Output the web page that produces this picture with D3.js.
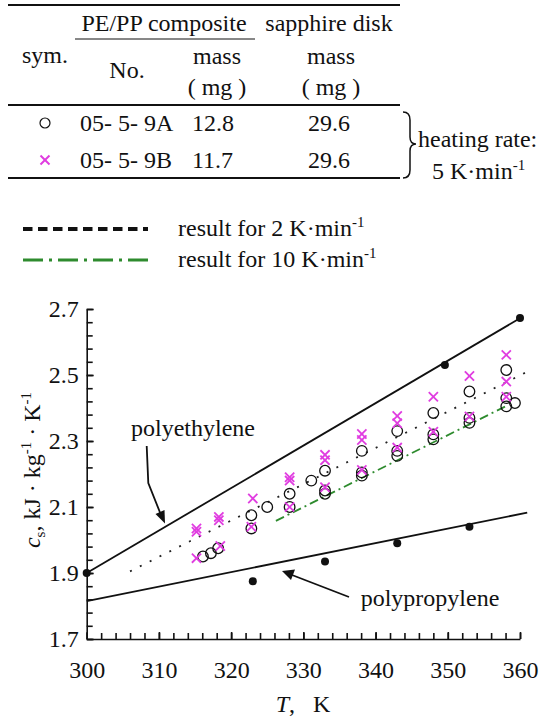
<!DOCTYPE html>
<html><head><meta charset="utf-8">
<script src="https://cdn.jsdelivr.net/npm/d3@7"></script>
<style>
body{margin:0;background:#fff;}
svg text{font-family:"Liberation Serif","Times New Roman",serif;fill:#111;}
</style></head>
<body><svg id="c" width="544" height="718"></svg>
<script>
// ---- data ----
const circleT  = [316.1,317.2,318.2,322.8,322.8,325.0,328.1,328.1,331.1,333.0,333.0,333.0,338.1,338.1,338.1,343.0,343.0,343.0,348.0,348.0,348.0,353.0,353.0,353.0,358.1,358.1,358.1,359.3];
const circleCs = [1.950,1.960,1.975,2.075,2.035,2.100,2.140,2.100,2.180,2.210,2.150,2.140,2.270,2.205,2.195,2.330,2.270,2.255,2.385,2.320,2.305,2.450,2.370,2.355,2.515,2.430,2.405,2.415];
const crossT   = [315.2,315.2,315.2,318.3,318.3,318.5,323.0,322.8,328.1,328.1,328.1,333.0,333.0,333.0,338.1,338.1,338.1,343.0,343.0,343.0,348.0,348.0,353.0,353.0,358.1,358.1,358.1];
const crossCs  = [1.945,2.035,2.025,2.070,2.060,1.982,2.126,2.040,2.190,2.180,2.100,2.258,2.242,2.160,2.321,2.303,2.212,2.376,2.354,2.280,2.434,2.328,2.497,2.374,2.561,2.480,2.434];
const peLineT  = [300, 360];   const peLineCs = [1.900, 2.672];
const peDotT   = [300, 349.6, 360]; const peDotCs = [1.900, 2.530, 2.673];
const ppLineT  = [300, 361];   const ppLineCs = [1.815, 2.083];
const ppDotT   = [323, 333, 343, 353]; const ppDotCs = [1.875, 1.935, 1.990, 2.040];
const rate2T   = [306, 361];   const rate2Cs  = [1.905, 2.510];
const rate10T  = [326.2, 358]; const rate10Cs = [2.058, 2.405];
const xMajor = [300,310,320,330,340,350,360];
const yMajor = [1.7,1.9,2.1,2.3,2.5,2.7];
const tableRows = [
  {sym:"circle", no:"05- 5- 9A", mass:"12.8", sapphire:"29.6"},
  {sym:"cross",  no:"05- 5- 9B", mass:"11.7", sapphire:"29.6"}
];
const legendItems = [
  {label:"result for 2 K·min", kind:"dash"},
  {label:"result for 10 K·min", kind:"dashdot"}
];

const MAG = "#e03ce0", GREEN = "#2e8b2e";
const FS = 24;
const svg = d3.select("#c");
const x = d3.scaleLinear().domain([300,360]).range([86.7,520]);
const y = d3.scaleLinear().domain([1.7,2.7]).range([639,309]);

function cross(g, cx, cy, s, col, w){
  g.append("line").attr("x1",cx-s).attr("y1",cy-s).attr("x2",cx+s).attr("y2",cy+s).attr("stroke",col).attr("stroke-width",w);
  g.append("line").attr("x1",cx-s).attr("y1",cy+s).attr("x2",cx+s).attr("y2",cy-s).attr("stroke",col).attr("stroke-width",w);
}

// ---- table ----
const tb = svg.append("g");
[[5,2.2],[105,2],[178,2.2]].forEach(([yy,w])=>tb.append("line").attr("x1",8).attr("x2",400).attr("y1",yy).attr("y2",yy).attr("stroke","#111").attr("stroke-width",w));
tb.append("line").attr("x1",75).attr("x2",255).attr("y1",39).attr("y2",39).attr("stroke","#111").attr("stroke-width",1);
const tt = (t,xx,yy,anchor="middle")=>tb.append("text").attr("x",xx).attr("y",yy).attr("text-anchor",anchor).attr("font-size",FS).text(t);
tt("PE/PP composite",164,31); tt("sapphire disk",329,31);
tt("sym.",45,63); tt("No.",127,78);
tt("mass",217,64); tt("( mg )",217,95);
tt("mass",331,64); tt("( mg )",331,95);
tableRows.forEach((r,i)=>{
  const yy = [131,168][i];
  if(r.sym==="circle") tb.append("circle").attr("cx",45).attr("cy",yy-8).attr("r",5).attr("fill","none").attr("stroke","#111").attr("stroke-width",1.2);
  else cross(tb,45,yy-8,4.5,MAG,2);
  tt(r.no,80,yy,"start"); tt(r.mass,192,yy,"start"); tt(r.sapphire,329,yy);
});
tb.append("path").attr("d","M403,112 Q410,112 410,120 L410,137 Q410,144 416,144 Q410,144 410,151 L410,170 Q410,178 403,178").attr("fill","none").attr("stroke","#111").attr("stroke-width",1.5);
tt("heating rate:",418,147,"start");
const t5 = tb.append("text").attr("x",432).attr("y",179).attr("font-size",FS);
t5.append("tspan").text("5 K·min");
t5.append("tspan").attr("dy",-9).attr("font-size",15).text("-1");

// ---- legend ----
const lg = svg.append("g");
legendItems.forEach((d,i)=>{
  const yy = 229 + i*31;
  lg.append("line").attr("x1",23).attr("x2",148).attr("y1",yy).attr("y2",yy)
    .attr("stroke", d.kind==="dash" ? "#111" : GREEN)
    .attr("stroke-width", d.kind==="dash" ? 3.8 : 3.2)
    .attr("stroke-dasharray", d.kind==="dash" ? "9.5,5.5" : "20,6,3,6");
  const t = lg.append("text").attr("x",178).attr("y",yy+7).attr("font-size",FS);
  t.append("tspan").text(d.label);
  t.append("tspan").attr("dy",-9).attr("font-size",15).text("-1");
});

// ---- axes ----
const ax = svg.append("g");
const yMinor = d3.range(0,26).map(i=>+(1.7+i*0.04).toFixed(2));
const xMinor = d3.range(300,361,2);
ax.append("g").attr("transform","translate(86.7,0)")
  .call(d3.axisLeft(y).tickValues(yMinor).tickSizeInner(-6).tickSizeOuter(0).tickFormat(""))
  .call(g=>g.selectAll("line,path").attr("stroke","#111").attr("stroke-width",1.6));
ax.append("g").attr("transform","translate(86.7,0)")
  .call(d3.axisLeft(y).tickValues(yMajor).tickSizeInner(-7).tickSizeOuter(0).tickPadding(8).tickFormat(d3.format(".1f")))
  .call(g=>{g.select(".domain").remove(); g.selectAll("line").attr("stroke","#111").attr("stroke-width",1.6);
            g.selectAll("text").attr("font-size",FS).attr("font-family","Liberation Serif").attr("fill","#111");});
ax.append("g").attr("transform","translate(0,639)")
  .call(d3.axisBottom(x).tickValues(xMinor).tickSizeInner(-6).tickSizeOuter(0).tickFormat(""))
  .call(g=>g.selectAll("line,path").attr("stroke","#111").attr("stroke-width",1.6));
ax.append("g").attr("transform","translate(0,639)")
  .call(d3.axisBottom(x).tickValues(xMajor).tickSizeInner(-7).tickSizeOuter(0).tickPadding(22).tickFormat(d3.format("d")))
  .call(g=>{g.select(".domain").remove(); g.selectAll("line").attr("stroke","#111").attr("stroke-width",1.6);
            g.selectAll("text").attr("font-size",FS).attr("font-family","Liberation Serif").attr("fill","#111");});

// axis titles
const yl = svg.append("text").attr("transform","translate(40,470) rotate(-90)").attr("text-anchor","middle").attr("font-size",FS);
yl.append("tspan").attr("font-style","italic").text("c");
yl.append("tspan").attr("dy",5).attr("font-size",15).text("s");
yl.append("tspan").attr("dy",-5).text(",\u00a0kJ · kg");
yl.append("tspan").attr("dy",-9).attr("font-size",15).text("-1");
yl.append("tspan").attr("dy",9).text(" · K");
yl.append("tspan").attr("dy",-9).attr("font-size",15).text("-1");
const xl = svg.append("text").attr("x",303).attr("y",712).attr("text-anchor","middle").attr("font-size",FS);
xl.append("tspan").attr("font-style","italic").text("T");
xl.append("tspan").text(",\u00a0\u00a0\u00a0K");

// ---- lines ----
const pl = svg.append("g");
const line = d3.line().x(d=>x(d[0])).y(d=>y(d[1]));
const zipT = (a,b)=>a.map((v,i)=>[v,b[i]]);
pl.append("path").attr("d",line(zipT(peLineT,peLineCs))).attr("fill","none").attr("stroke","#111").attr("stroke-width",1.8);
pl.append("path").attr("d",line(zipT(ppLineT,ppLineCs))).attr("fill","none").attr("stroke","#111").attr("stroke-width",1.8);
pl.append("path").attr("d",line(zipT(rate2T,rate2Cs))).attr("fill","none").attr("stroke","#222").attr("stroke-width",1.8).attr("stroke-dasharray","2,9");
pl.append("path").attr("d",line(zipT(rate10T,rate10Cs))).attr("fill","none").attr("stroke",GREEN).attr("stroke-width",1.8).attr("stroke-dasharray","9,4,2,4");
pl.selectAll("circle.pe").data(zipT(peDotT,peDotCs)).join("circle").attr("class","pe").attr("cx",d=>x(d[0])).attr("cy",d=>y(d[1])).attr("r",4).attr("fill","#111");
pl.selectAll("circle.pp").data(zipT(ppDotT,ppDotCs)).join("circle").attr("class","pp").attr("cx",d=>x(d[0])).attr("cy",d=>y(d[1])).attr("r",4).attr("fill","#111");

// ---- markers ----
const mk = svg.append("g");
mk.selectAll("circle.a").data(zipT(circleT,circleCs)).join("circle").attr("class","a")
  .attr("cx",d=>x(d[0])).attr("cy",d=>y(d[1])).attr("r",5.3).attr("fill","none").attr("stroke","#111").attr("stroke-width",1.3);
zipT(crossT,crossCs).forEach(d=>cross(mk,x(d[0]),y(d[1]),4.6,MAG,1.8));

// ---- annotations ----
const an = svg.append("g");
an.append("text").attr("x",193).attr("y",436).attr("text-anchor","middle").attr("font-size",FS).text("polyethylene");
an.append("path").attr("d","M146.7,446 L148.3,483 L161,515").attr("fill","none").attr("stroke","#111").attr("stroke-width",1.8);
an.append("path").attr("d","M165,523.5 L155.5,514 L164.5,510 Z").attr("fill","#111");
an.append("text").attr("x",430).attr("y",606).attr("text-anchor","middle").attr("font-size",FS).text("polypropylene");
an.append("path").attr("d","M349,597 L292,575").attr("fill","none").attr("stroke","#111").attr("stroke-width",1.8);
an.append("path").attr("d","M282,571 L295,569.5 L291,580 Z").attr("fill","#111");
</script></body></html>
